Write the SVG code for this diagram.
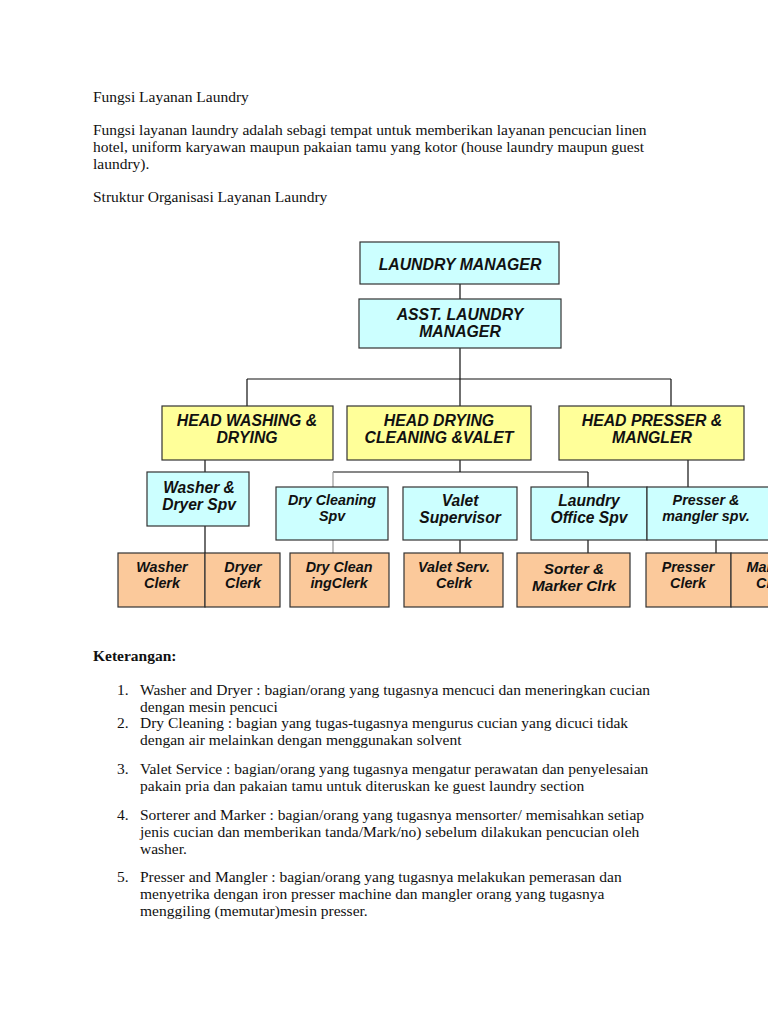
<svg xmlns="http://www.w3.org/2000/svg" width="768" height="1024" viewBox="0 0 768 1024">
<defs>
<style>
.doc{font-family:"Liberation Serif","Times New Roman",serif;font-size:15.5px;fill:#111}
.b{font-weight:bold}
.box{stroke:#333;stroke-width:1.2}
.cy{fill:#ccffff}
.ye{fill:#ffff99}
.or{fill:#fbc99b}
.lbl{font-family:"Liberation Sans",Arial,sans-serif;font-weight:bold;font-style:italic;fill:#111;text-anchor:middle}
.l1{font-size:15.8px}
.l2{font-size:15.6px}
.l3{font-size:14.3px}
.l4{font-size:15.3px}
.con{stroke:#111;stroke-width:1.2;fill:none}
.gray{stroke:#999}
</style>
</defs>
<rect width="768" height="1024" fill="#fff"/>
<g id="text-top" class="doc">
<text x="93" y="102">Fungsi Layanan Laundry</text>
<text x="93" y="135">Fungsi layanan laundry adalah sebagi tempat untuk memberikan layanan pencucian linen</text>
<text x="93" y="152">hotel, uniform karyawan maupun pakaian tamu yang kotor (house laundry maupun guest</text>
<text x="93" y="169">laundry).</text>
<text x="93" y="202">Struktur Organisasi Layanan Laundry</text>
</g>
<g id="connectors">
<path class="con" d="M460 284V299M460 348V379M247 379H671M247 379V406M460 379V406M671 379V406"/>
<path class="con" d="M205 460V472M205 526V607"/>
<path class="con" d="M460 460V472M333 472H588M588 472V487"/>
<path class="con gray" d="M333 472V487M333 540V553"/>
<path class="con" d="M460 540V553M588 540V553"/>
<path class="con" d="M688 460V487M716 540V553"/>
</g>
<g id="n-manager"><rect class="box cy" x="360" y="242" width="199" height="42"/><text class="lbl l1" x="460" y="270">LAUNDRY MANAGER</text></g>
<g id="n-asst"><rect class="box cy" x="359" y="299" width="202" height="49"/><text class="lbl l1" x="460" y="320">ASST. LAUNDRY</text><text class="lbl l1" x="460" y="337">MANAGER</text></g>
<g id="n-head-washing"><rect class="box ye" x="162" y="406" width="171" height="54"/><text class="lbl l1" x="247" y="426">HEAD WASHING &amp;</text><text class="lbl l1" x="247" y="443">DRYING</text></g>
<g id="n-head-drying"><rect class="box ye" x="347" y="406" width="184" height="54"/><text class="lbl l1" x="439" y="426">HEAD DRYING</text><text class="lbl l1" x="439" y="443">CLEANING &amp;VALET</text></g>
<g id="n-head-presser"><rect class="box ye" x="559" y="406" width="185" height="54"/><text class="lbl l1" x="652" y="426">HEAD PRESSER &amp;</text><text class="lbl l1" x="652" y="443">MANGLER</text></g>
<g id="n-washer-spv"><rect class="box cy" x="147" y="472" width="102" height="54"/><text class="lbl l2" x="199" y="493">Washer &amp;</text><text class="lbl l2" x="199" y="510">Dryer Spv</text></g>
<g id="n-dryclean-spv"><rect class="box cy" x="276" y="487" width="112" height="53"/><text class="lbl l3" x="332" y="505">Dry Cleaning</text><text class="lbl l3" x="332" y="521">Spv</text></g>
<g id="n-valet-spv"><rect class="box cy" x="403" y="487" width="114" height="53"/><text class="lbl l2" x="460" y="506">Valet</text><text class="lbl l2" x="460" y="523">Supervisor</text></g>
<g id="n-office-spv"><rect class="box cy" x="531" y="487" width="116" height="53"/><text class="lbl l2" x="589" y="506">Laundry</text><text class="lbl l2" x="589" y="523">Office Spv</text></g>
<g id="n-presser-spv"><rect class="box cy" x="647" y="487" width="130" height="53"/><text class="lbl l3" x="706" y="505">Presser &amp;</text><text class="lbl l3" x="706" y="521">mangler spv.</text></g>
<g id="n-washer-clerk"><rect class="box or" x="118" y="553" width="87" height="54"/><text class="lbl l3" x="162" y="572">Washer</text><text class="lbl l3" x="162" y="588">Clerk</text></g>
<g id="n-dryer-clerk"><rect class="box or" x="205" y="553" width="75" height="54"/><text class="lbl l3" x="243" y="572">Dryer</text><text class="lbl l3" x="243" y="588">Clerk</text></g>
<g id="n-dryclean-clerk"><rect class="box or" x="290" y="553" width="99" height="54"/><text class="lbl l3" x="339" y="572">Dry Clean</text><text class="lbl l3" x="339" y="588">ingClerk</text></g>
<g id="n-valet-clerk"><rect class="box or" x="404" y="553" width="99" height="54"/><text class="lbl l3" x="454" y="572">Valet Serv.</text><text class="lbl l3" x="454" y="588">Celrk</text></g>
<g id="n-sorter-clerk"><rect class="box or" x="517" y="553" width="113" height="54"/><text class="lbl l4" x="574" y="574">Sorter &amp;</text><text class="lbl l4" x="574" y="591">Marker Clrk</text></g>
<g id="n-presser-clerk"><rect class="box or" x="646" y="553" width="85" height="54"/><text class="lbl l3" x="688" y="572">Presser</text><text class="lbl l3" x="688" y="588">Clerk</text></g>
<g id="n-mangler-clerk"><rect class="box or" x="731" y="553" width="85" height="54"/><text class="lbl l3" x="774" y="572">Mangler</text><text class="lbl l3" x="774" y="588">Clerk</text></g>
<g id="text-notes" class="doc">
<text class="b" x="93" y="661">Keterangan:</text>
<text x="117" y="695">1.</text>
<text x="140" y="695">Washer and Dryer : bagian/orang yang tugasnya mencuci dan meneringkan cucian</text>
<text x="140" y="712">dengan mesin pencuci</text>
<text x="117" y="728">2.</text>
<text x="140" y="728">Dry Cleaning : bagian yang tugas-tugasnya mengurus cucian yang dicuci tidak</text>
<text x="140" y="745">dengan air melainkan dengan menggunakan solvent</text>
<text x="117" y="774">3.</text>
<text x="140" y="774">Valet Service : bagian/orang yang tugasnya mengatur perawatan dan penyelesaian</text>
<text x="140" y="791">pakain pria dan pakaian tamu untuk diteruskan ke guest laundry section</text>
<text x="117" y="820">4.</text>
<text x="140" y="820">Sorterer and Marker : bagian/orang yang tugasnya mensorter/ memisahkan setiap</text>
<text x="140" y="837">jenis cucian dan memberikan tanda/Mark/no) sebelum dilakukan pencucian oleh</text>
<text x="140" y="854">washer.</text>
<text x="117" y="882">5.</text>
<text x="140" y="882">Presser and Mangler : bagian/orang yang tugasnya melakukan pemerasan dan</text>
<text x="140" y="899">menyetrika dengan iron presser machine dan mangler orang yang tugasnya</text>
<text x="140" y="916">menggiling (memutar)mesin presser.</text>
</g>
</svg>
